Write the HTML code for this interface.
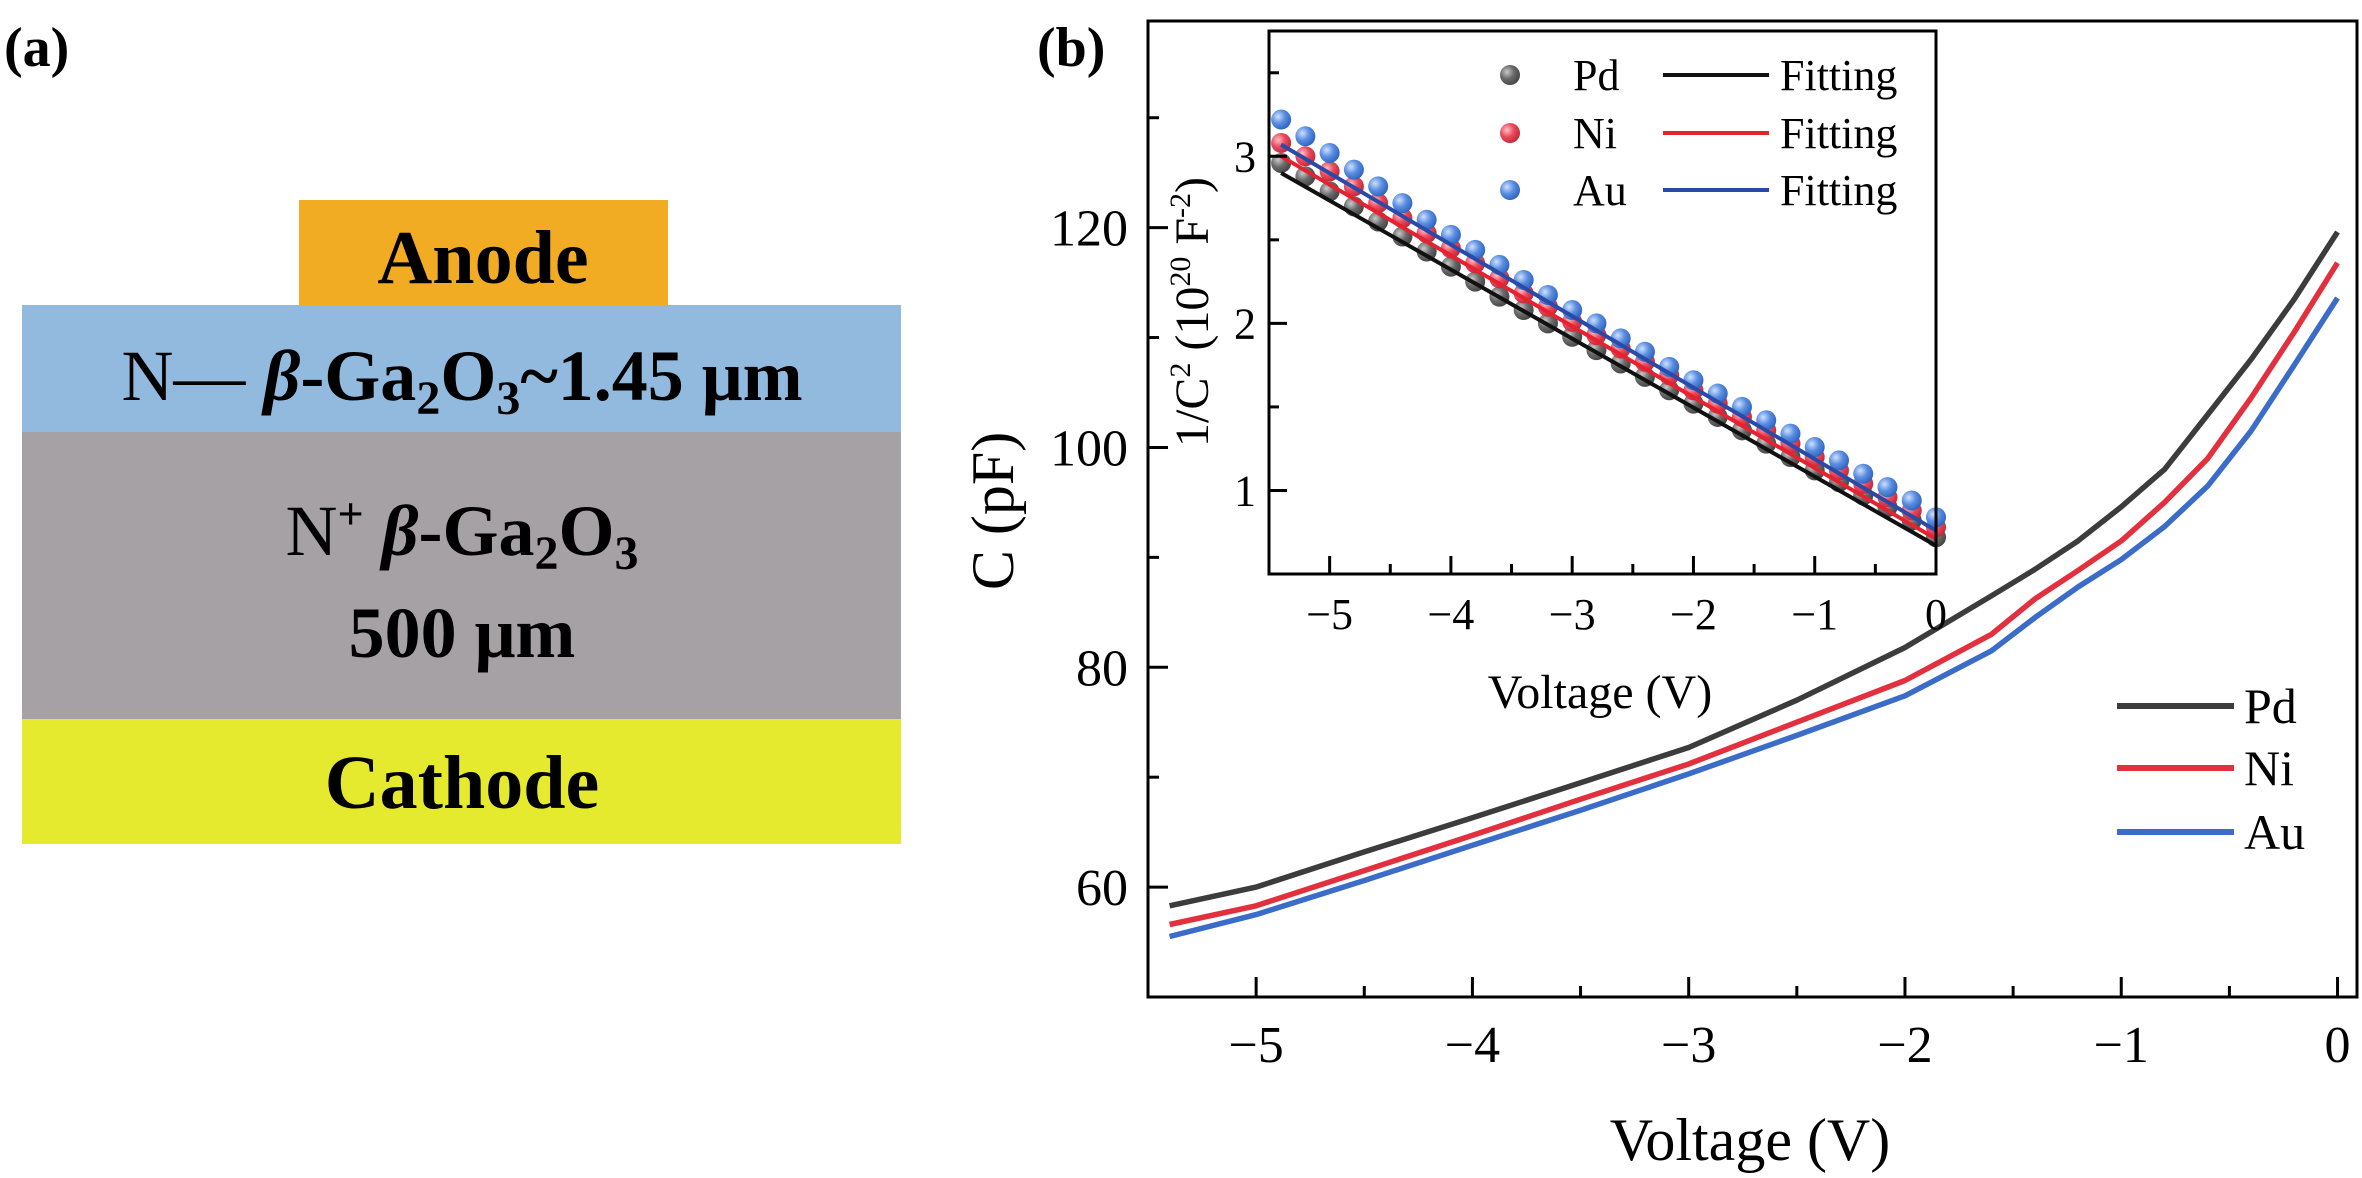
<!DOCTYPE html>
<html><head><meta charset="utf-8"><style>
body{margin:0;background:#fff;}
svg{display:block;font-family:"Liberation Serif",serif;}
</style></head><body>
<svg id="fig" width="2362" height="1178" viewBox="0 0 2362 1178">
<defs>
<radialGradient id="gPd" cx="0.35" cy="0.35" r="0.7"><stop offset="0" stop-color="#c8c8c8"/><stop offset="0.5" stop-color="#6a6a6a"/><stop offset="1" stop-color="#444"/></radialGradient>
<radialGradient id="gNi" cx="0.35" cy="0.35" r="0.7"><stop offset="0" stop-color="#ffc0c8"/><stop offset="0.5" stop-color="#ea4a5c"/><stop offset="1" stop-color="#c02838"/></radialGradient>
<radialGradient id="gAu" cx="0.35" cy="0.35" r="0.7"><stop offset="0" stop-color="#cfe0ff"/><stop offset="0.5" stop-color="#5a8ee0"/><stop offset="1" stop-color="#2f62bf"/></radialGradient>
</defs>
<g>
<text x="4" y="66" font-size="56" font-weight="bold">(a)</text>
<rect x="299" y="200" width="369" height="105" fill="#f2ac24"/>
<text x="483" y="283" font-size="76" font-weight="bold" text-anchor="middle">Anode</text>
<rect x="22" y="305" width="879" height="127" fill="#92badf"/>
<text x="462" y="400" font-size="72" font-weight="bold" text-anchor="middle"><tspan font-weight="normal">N—</tspan> <tspan font-style="italic">β</tspan>-Ga<tspan font-size="48" dy="14">2</tspan><tspan dy="-14">O</tspan><tspan font-size="48" dy="14">3</tspan><tspan dy="-14">~1.45 μm</tspan></text>
<rect x="22" y="432" width="879" height="287" fill="#a6a1a4"/>
<text x="462" y="555" font-size="72" font-weight="bold" text-anchor="middle"><tspan font-weight="normal">N</tspan><tspan font-size="46" dy="-26">+</tspan> <tspan dy="26" font-style="italic">β</tspan>-Ga<tspan font-size="48" dy="14">2</tspan><tspan dy="-14">O</tspan><tspan font-size="48" dy="14">3</tspan></text>
<text x="462" y="657" font-size="72" font-weight="bold" text-anchor="middle">500 μm</text>
<rect x="22" y="719" width="879" height="125" fill="#e6ea2e"/>
<text x="462" y="808" font-size="76" font-weight="bold" text-anchor="middle">Cathode</text>
</g>
<text x="1037" y="66" font-size="56" font-weight="bold">(b)</text>
<g id="main"></g>
<g id="inset"></g>
</svg>
<script>
const mainV = [-5.4,-5,-4.5,-4,-3.5,-3,-2.5,-2,-1.6,-1.4,-1.2,-1,-0.8,-0.6,-0.4,-0.2,0];
const mainPd = [58.3,60,63.2,66.3,69.5,72.7,77,81.8,86.5,88.9,91.5,94.6,98,103,108,113.5,119.6];
const mainNi = [56.6,58.3,61.5,64.7,68,71.2,75,78.8,83,86.2,88.8,91.5,95,99,104.5,110.5,116.8];
const mainAu = [55.5,57.5,60.6,63.8,67,70.3,73.8,77.4,81.5,84.5,87.3,89.8,92.8,96.5,101.5,107.5,113.6];
const mainXTicks = [-5,-4,-3,-2,-1,0];
const mainYTicks = [60,80,100,120];
const insetV = [-5.4,-5.2,-5,-4.8,-4.6,-4.4,-4.2,-4,-3.8,-3.6,-3.4,-3.2,-3,-2.8,-2.6,-2.4,-2.2,-2,-1.8,-1.6,-1.4,-1.2,-1,-0.8,-0.6,-0.4,-0.2,0];
const insetPd = [2.96,2.88,2.79,2.70,2.61,2.52,2.43,2.34,2.25,2.16,2.08,2.00,1.92,1.84,1.76,1.68,1.60,1.52,1.44,1.36,1.28,1.20,1.12,1.05,0.97,0.90,0.82,0.72];
const insetNi = [3.08,3.00,2.91,2.82,2.72,2.63,2.54,2.45,2.36,2.27,2.18,2.10,2.01,1.93,1.85,1.77,1.69,1.60,1.52,1.44,1.36,1.28,1.20,1.12,1.04,0.96,0.88,0.78];
const insetAu = [3.22,3.12,3.02,2.92,2.82,2.72,2.62,2.53,2.44,2.35,2.26,2.17,2.08,2.00,1.91,1.83,1.74,1.66,1.58,1.50,1.42,1.34,1.26,1.18,1.10,1.02,0.94,0.84];
const fitV = [-5.4,0];
const fitPd = [2.90,0.67];
const fitNi = [3.00,0.71];
const fitAu = [3.07,0.76];
const insetXTicks = [-5,-4,-3,-2,-1,0];
const insetYTicks = [1,2,3];

const NS="http://www.w3.org/2000/svg";
function mk(parent,tag,attrs,text){const e=document.createElementNS(NS,tag);for(const k in attrs)e.setAttribute(k,attrs[k]);if(text!==undefined)e.textContent=text;parent.appendChild(e);return e;}

const M={l:1148,r:2357,t:21,b:997,x0:-5.5,x1:0.09,y0:50,y1:138.8};
const mx=v=>M.l+(v-M.x0)/(M.x1-M.x0)*(M.r-M.l);
const my=v=>M.b-(v-M.y0)/(M.y1-M.y0)*(M.b-M.t);
const main=document.getElementById('main');
const frame=mk(main,'rect',{x:M.l,y:M.t,width:M.r-M.l,height:M.b-M.t,fill:'none',stroke:'#000','stroke-width':3});


for(let v=-5.5;v<=0.01;v+=0.5){const major=Math.abs(v-Math.round(v))<1e-6;const t=mk(main,'line',{x1:mx(v),x2:mx(v),y1:M.b,y2:M.b-(major?20:11),stroke:'#000','stroke-width':3});

}
for(let v=60;v<=130;v+=10){const major=v%20===0;const t=mk(main,'line',{x1:M.l,x2:M.l+(major?20:11),y1:my(v),y2:my(v),stroke:'#000','stroke-width':3});

}
mainXTicks.forEach(v=>{const t=mk(main,'text',{x:mx(v),y:1062,'font-size':52,'text-anchor':'middle'},v<0?'−'+Math.abs(v):String(v));

});
mainYTicks.forEach(v=>{const t=mk(main,'text',{x:1128,y:my(v)+18,'font-size':52,'text-anchor':'end'},String(v));

});
const xt=mk(main,'text',{x:1750,y:1160,'font-size':60,'text-anchor':'middle'},'Voltage (V)');


const yt=mk(main,'text',{x:0,y:0,'font-size':60,'text-anchor':'middle',transform:'translate(1013,511) rotate(-90)'},'C (pF)');


const series=[['pd',mainPd,'#3c3c3c'],['ni',mainNi,'#e2303e'],['au',mainAu,'#3b6cc8']];
series.forEach(([n,arr,c])=>{const d=arr.map((v,i)=>(i?'L':'M')+mx(mainV[i]).toFixed(1)+' '+my(v).toFixed(1)).join(' ');
const p=mk(main,'path',{d:d,fill:'none',stroke:c,'stroke-width':5.5,'stroke-linejoin':'round'});

});
const legY=[706,768,832],legN=['Pd','Ni','Au'];
series.forEach(([n,arr,c],i)=>{const l=mk(main,'line',{x1:2117,x2:2234,y1:legY[i],y2:legY[i],stroke:c,'stroke-width':6});


const t=mk(main,'text',{x:2244,y:legY[i]+17,'font-size':50},legN[i]);

});

const I={l:1269,r:1936,t:31,b:574,x0:-5.5,x1:0,y0:0.5,y1:3.75};
const ix=v=>I.l+(v-I.x0)/(I.x1-I.x0)*(I.r-I.l);
const iy=v=>I.b-(v-I.y0)/(I.y1-I.y0)*(I.b-I.t);
const inset=document.getElementById('inset');
const bg=mk(inset,'rect',{x:I.l,y:I.t,width:I.r-I.l,height:I.b-I.t,fill:'#fff'});


const pts=[['pd',insetPd,'url(#gPd)'],['ni',insetNi,'url(#gNi)'],['au',insetAu,'url(#gAu)']];
pts.forEach(([n,arr,f])=>{arr.forEach((v,i)=>{const c=mk(inset,'circle',{cx:ix(insetV[i]),cy:iy(v),r:10,fill:f});

});});
const fits=[['pd',fitPd,'#111'],['ni',fitNi,'#e5222f'],['au',fitAu,'#2a4aa8']];
fits.forEach(([n,arr,c])=>{const l=mk(inset,'line',{x1:ix(fitV[0]),y1:iy(arr[0]),x2:ix(fitV[1]),y2:iy(arr[1]),stroke:c,'stroke-width':4});

});
const ifr=mk(inset,'rect',{x:I.l,y:I.t,width:I.r-I.l,height:I.b-I.t,fill:'none',stroke:'#000','stroke-width':3});


for(let v=-5;v<=0.01;v+=0.5){const major=Math.abs(v-Math.round(v))<1e-6;const t=mk(inset,'line',{x1:ix(v),x2:ix(v),y1:I.b,y2:I.b-(major?18:10),stroke:'#000','stroke-width':3});

}
for(let v=1;v<=3.51;v+=0.5){const major=Math.abs(v-Math.round(v))<1e-6;const t=mk(inset,'line',{x1:I.l,x2:I.l+(major?18:10),y1:iy(v),y2:iy(v),stroke:'#000','stroke-width':3});

}
insetXTicks.forEach(v=>{const t=mk(inset,'text',{x:ix(v),y:629,'font-size':44,'text-anchor':'middle'},v<0?'−'+Math.abs(v):String(v));

});
insetYTicks.forEach(v=>{const t=mk(inset,'text',{x:1256,y:iy(v)+15,'font-size':44,'text-anchor':'end'},String(v));

});
const ixt=mk(inset,'text',{x:1600,y:708,'font-size':48,'text-anchor':'middle'},'Voltage (V)');


const iyt=mk(inset,'text',{x:0,y:0,'font-size':48,'text-anchor':'middle',transform:'translate(1208,312) rotate(-90)'});


iyt.innerHTML='1/C<tspan font-size="30" dy="-18">2</tspan><tspan dy="18"> (10</tspan><tspan font-size="30" dy="-18">20</tspan><tspan dy="18"> F</tspan><tspan font-size="30" dy="-18">-2</tspan><tspan dy="18">)</tspan>';
const ilY=[75,133,190],ilN=['Pd','Ni','Au'],ilF=['url(#gPd)','url(#gNi)','url(#gAu)'],ilC=['#111','#e5222f','#2a4aa8'];
ilN.forEach((n,i)=>{const c=mk(inset,'circle',{cx:1510,cy:ilY[i],r:10,fill:ilF[i]});


const t=mk(inset,'text',{x:1573,y:ilY[i]+15,'font-size':44},n);


const l=mk(inset,'line',{x1:1663,x2:1769,y1:ilY[i],y2:ilY[i],stroke:ilC[i],'stroke-width':4});


const f=mk(inset,'text',{x:1780,y:ilY[i]+15,'font-size':44},'Fitting');

});
</script>
</body></html>
